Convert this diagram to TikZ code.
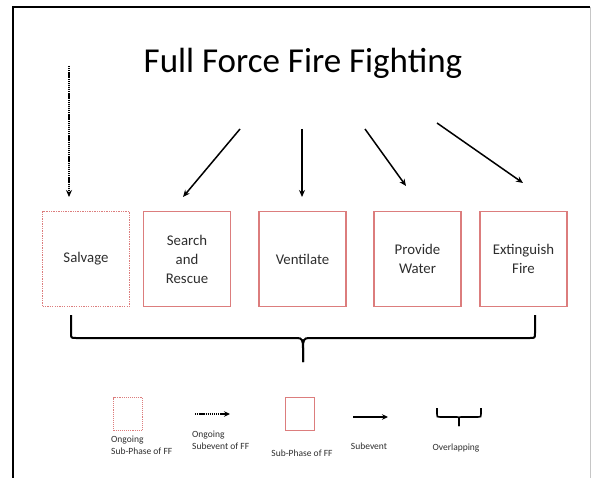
\documentclass[tikz,border=0pt]{standalone}
\usepackage{fontspec}
\setmainfont{Carlito}
\usetikzlibrary{arrows.meta}
\definecolor{boxred}{RGB}{220,125,125}
\definecolor{txt}{RGB}{45,45,45}
\begin{document}
\begin{tikzpicture}[x=1pt,y=-1pt,
  phase/.style={draw=boxred, line width=1.9pt, minimum width=87pt, minimum height=95pt, inner sep=0pt, text=txt, font=\fontsize{14.8}{19}\selectfont, align=center},
  ongoing/.style={phase, dash pattern=on 1.3pt off 1.1pt},
  legphase/.style={draw=boxred, line width=1.6pt, minimum width=29pt, minimum height=33pt, inner sep=0pt},
  legongoing/.style={legphase, dash pattern=on 1.1pt off 1pt},
  legtext/.style={text=txt, font=\fontsize{9.5}{11.5}\selectfont, inner sep=0pt},
  subev/.style={-{Stealth[length=7pt,width=6pt]}, line width=1.5pt, black},
  ongev/.style={subev, dash pattern=on 1.3pt off 0.8pt},
  brace/.style={line width=2pt, black}]
\useasboundingbox (0,0) rectangle (591,478);
% frame
\draw[line width=2.2pt] (13,478) -- (13,7) -- (590,7);
\draw[gray!45, line width=0.8pt] (590,7) -- (590,478);
% title
\node (title) at (303,63) {\fontsize{35}{40}\selectfont Full Force Fire Fighting};
% boxes
\node[ongoing] (salvage) at (86,259) {Salvage};
\node[phase] (search) at (187,259) {Search\\and\\Rescue};
\node[phase] (vent) at (302.5,259) {Ventilate};
\node[phase] (water) at (417.5,259) {Provide\\Water};
\node[phase] (ext) at (523.5,259) {Extinguish\\Fire};
% arrows
\coordinate (a0) at (69,66);   \coordinate (b0) at (69,197);
\coordinate (a1) at (240,129); \coordinate (b1) at (183,197);
\coordinate (a2) at (302,129); \coordinate (b2) at (302,197);
\coordinate (a3) at (365,129); \coordinate (b3) at (406,186);
\coordinate (a4) at (437,123); \coordinate (b4) at (523,183);
\draw[ongev] (a0) -- (b0);
\draw[subev] (a1) -- (b1);
\draw[subev] (a2) -- (b2);
\draw[subev] (a3) -- (b3);
\draw[subev] (a4) -- (b4);
% big brace
\coordinate (bl) at (71,315); \coordinate (br) at (535,315); \coordinate (bt) at (303,362);
\draw[brace] (bl) -- (71,333) .. controls (71,338) .. (76,338) -- (297,338)
  .. controls (302,338) and (303,340) .. (303,348) -- (bt);
\draw[brace] (br) -- (535,333) .. controls (535,338) .. (530,338) -- (309,338)
  .. controls (304,338) and (303,340) .. (303,348) -- (bt);
% legend
\node[legongoing] (l1) at (128,414) {};
\node[legtext, anchor=north west, align=left] (l1t) at (111,436) {Ongoing\\Sub-Phase of FF};
\coordinate (l2a) at (195,414); \coordinate (l2b) at (230,414);
\draw[ongev, line width=1.4pt, -{Stealth[length=6pt,width=5.5pt]}] (l2a) -- (l2b);
\node[legtext, anchor=north west, align=left] (l2t) at (192,431) {Ongoing\\Subevent of FF};
\node[legphase] (l3) at (300,414) {};
\node[legtext] (l3t) at (302,453) {Sub-Phase of FF};
\coordinate (l4a) at (353,417); \coordinate (l4b) at (388,417);
\draw[subev, line width=1.4pt, -{Stealth[length=6pt,width=5.5pt]}] (l4a) -- (l4b);
\node[legtext] (l4t) at (369,446) {Subevent};
\coordinate (sl) at (437,408); \coordinate (sr) at (481,408); \coordinate (st) at (459,426);
\draw[brace, line width=1.6pt] (sl) -- (437,414) .. controls (437,417) .. (440,417) -- (457,417)
  .. controls (459,417) .. (459,420) -- (st);
\draw[brace, line width=1.6pt] (sr) -- (481,414) .. controls (481,417) .. (478,417) -- (461,417)
  .. controls (459,417) .. (459,420) -- (st);
\node[legtext] (l5t) at (456,448) {Overlapping};
\end{tikzpicture}
\end{document}
